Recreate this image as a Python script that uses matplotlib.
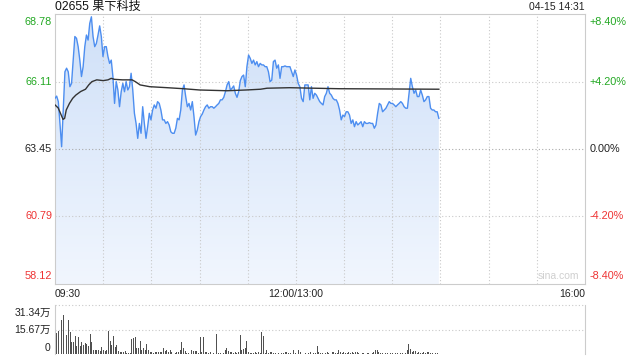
"""Intraday price and volume chart for 02655"""
import matplotlib
matplotlib.use('Agg')
import matplotlib.pyplot as plt
import matplotlib.transforms as mtransforms
from matplotlib.colors import LinearSegmentedColormap
import numpy as np

plt.rcParams['font.family'] = ['Liberation Sans', 'Noto Sans CJK SC', 'DejaVu Sans']

# chart values
stock_title = '02655 果下科技'
stamp = '04-15 14:31'
prev_close = 63.45
price_ticks = [68.78, 66.11, 63.45, 60.79, 58.12]
pct_labels = ['+8.40%', '+4.20%', '0.00%', '-4.20%', '-8.40%']
vol_ticks = [31.34, 15.67, 0]
vol_labels = ['31.34万', '15.67万', '0']
time_labels = ['09:30', '12:00/13:00', '16:00']
time_label_pos = [0, 150, 330]   # minutes after open, lunch removed
session_len = 330
last_minute = 239

price = [
    65.45, 65.54, 65.32, 64.46, 63.54, 64.99, 66.50, 66.64, 66.50, 65.91,
    66.04, 66.96, 67.89, 67.82, 67.49, 66.96, 66.31, 66.70, 67.49, 67.95,
    67.75, 68.41, 68.67, 67.89, 67.49, 67.62, 67.95, 68.31, 67.89, 67.10,
    67.49, 67.49, 67.10, 66.83, 66.96, 66.31, 65.25, 66.11, 65.78, 65.12,
    65.71, 66.04, 65.71, 66.11, 65.78, 65.91, 66.44, 65.78, 64.86, 64.46,
    63.87, 64.46, 64.07, 65.12, 64.46, 63.87, 64.33, 64.86, 64.60, 64.99,
    65.19, 65.06, 65.32, 65.25, 64.99, 64.60, 64.60, 64.46, 64.53, 64.40,
    64.13, 64.07, 64.07, 64.27, 64.66, 64.60, 64.99, 65.78, 65.98, 65.52,
    65.12, 65.25, 64.99, 65.32, 64.73, 64.00, 64.20, 64.53, 64.73, 64.83,
    64.99, 65.12, 65.19, 65.06, 65.12, 65.12, 65.06, 65.12, 65.19, 65.25,
    65.39, 65.39, 65.49, 65.71, 65.98, 66.11, 65.78, 65.85, 65.94, 65.65,
    65.49, 65.71, 66.15, 66.31, 66.37, 65.91, 66.70, 67.16, 67.03, 66.83,
    66.96, 66.77, 66.90, 66.70,
    66.83, 66.77, 66.77, 66.70, 66.70, 66.50, 66.11, 66.17, 66.90, 66.96,
    66.64, 66.77, 66.24, 66.70, 66.70, 66.73, 66.70, 66.70, 66.70, 66.50,
    66.31, 66.57, 66.37, 66.04, 65.91, 65.45, 65.32, 65.98, 65.98, 65.98,
    65.39, 65.91, 65.45, 65.65, 65.58, 65.45, 65.32, 65.25, 65.19, 65.52,
    65.65, 65.91, 65.65, 65.58, 65.45, 65.39, 65.39, 65.25, 64.99, 64.60,
    64.79, 64.73, 64.92, 64.92, 64.79, 64.46, 64.60, 64.33, 64.53, 64.40,
    64.46, 64.53, 64.33, 64.53, 64.46, 64.46, 64.49, 64.46, 64.46, 64.27,
    64.40, 64.86, 65.25, 65.19, 64.92, 64.99, 65.06, 65.19, 65.32, 65.25,
    65.25, 65.19, 65.12, 65.19, 65.25, 65.32, 65.25, 65.12, 65.06, 65.06,
    65.65, 66.24, 65.91, 65.65, 65.78, 65.52, 65.52, 65.78, 65.58, 65.32,
    65.39, 65.52, 65.52, 65.06, 64.99, 64.99, 64.92, 64.92, 64.66,
]

avg_minutes = [0, 2, 5, 6, 7, 9, 11, 13, 16, 19, 21, 23, 26, 30, 33, 35, 37,
               42, 48, 50, 53, 59, 70, 80, 90, 107, 119, 128, 132, 146, 177,
               209, 239]
avg_price = [65.19, 65.07, 64.62, 64.66, 64.99, 65.25, 65.45, 65.58, 65.72,
             65.81, 65.98, 66.11, 66.18, 66.15, 66.18, 66.24, 66.20, 66.18,
             66.18, 66.11, 65.98, 65.91, 65.87, 65.83, 65.78, 65.75, 65.78,
             65.81, 65.85, 65.87, 65.83, 65.82, 65.81]

# volume in 万 shares, one bar per minute
volume = [
    30.7, 13.3, 14.8, 12.3, 21.8, 25.0, 3.2, 11.9, 21.8, 14.0,
    7.6, 7.6, 11.2, 4.9, 10.8, 4.9, 7.6, 5.9, 7.0, 6.4,
    4.9, 12.9, 7.4, 2.8, 2.8, 2.8, 2.3, 1.7, 4.4, 2.3,
    2.1, 2.3, 14.8, 8.5, 5.9, 11.2, 4.4, 5.9, 1.7, 1.3,
    1.3, 1.1, 1.7, 0.6, 0.6, 0.6, 9.5, 10.2, 10.6, 3.8,
    3.8, 8.5, 2.8, 3.8, 2.8, 6.6, 2.8, 1.1, 1.5, 0.6,
    1.1, 1.1, 1.1, 1.1, 1.3, 3.8, 1.7, 2.8, 1.3, 2.3,
    1.3, 0.2, 0.6, 1.1, 1.1, 2.8, 7.8, 3.8, 2.1, 0.6,
    0.6, 0.2, 2.8, 1.7, 1.7, 1.7, 0.6, 10.6, 1.1, 10.6,
    1.1, 1.1, 0.6, 1.1, 0.2, 0.6, 0.2, 12.7, 0.6, 0.6,
    0.2, 0.6, 2.3, 3.8, 1.7, 1.3, 1.3, 0.6, 1.1, 0.6,
    1.5, 12.3, 2.8, 3.2, 3.8, 8.0,
    1.3, 0.6, 0.6, 0.6, 1.1, 0.6, 1.1, 0.6, 14.0, 11.6,
    0.6, 2.8, 0.6, 1.1, 1.3, 0.6, 0.6, 0.2, 0.6, 0.2,
    0.6, 0.6, 1.1, 1.3, 0.6, 0.6, 1.1, 2.3, 0.6, 0.6,
    2.8, 1.3, 0.6, 0.2, 0.6, 0.6, 0.6, 1.1, 0.6, 0.6,
    0.6, 4.9, 1.1, 0.6, 0.6, 0.2, 0.6, 1.1, 0.6, 0.2,
    1.1, 1.1, 0.6, 0.6, 2.3, 1.3, 0.6, 1.1, 0.6, 0.6,
    1.3, 0.6, 1.1, 0.6, 1.3, 1.3, 0.6, 0.2, 0.6, 0.6,
    0.2, 0.6, 0.6, 0.2, 0.6, 1.1, 2.3, 2.8, 1.1, 0.6,
    0.6, 0.2, 0.6, 0.6, 0.2, 0.6, 0.6, 0.2, 0.6, 0.6,
    0.2, 0.6, 0.6, 0.2, 0.6, 2.3, 6.6, 3.2, 1.1, 1.7,
    2.1, 0.6, 1.1, 0.6, 0.6, 1.3, 0.6, 1.3, 1.1, 0.6,
    0.6, 0.2, 0.6, 0.6, 0.2,
]

GREEN = '#22a822'
RED = '#ee3333'
GRID = '#c9c9c9'
label_colors = [GREEN, GREEN, '#222222', RED, RED]
FS = 7.8

price_minutes = np.linspace(0, last_minute, len(price))
vol_minutes = np.linspace(0, last_minute, len(volume))

fig = plt.figure(figsize=(6.4, 3.6), dpi=100)
ax = fig.add_axes([55 / 640, 1 - 284 / 360, 530 / 640, 270 / 360])
axv = fig.add_axes([55 / 640, 1 - 354 / 360, 530 / 640, 49 / 360])

ax.set_xlim(0, session_len)
ax.set_ylim(price_ticks[-1], price_ticks[0])

# gradient fill under the price line
fill = ax.fill_between(price_minutes, price, price_ticks[-1], color='none', lw=0)
grad_cmap = LinearSegmentedColormap.from_list('g', ['#f1f6fe', '#cfe0f8'])
grad = ax.imshow(np.linspace(0, 1, 256).reshape(-1, 1), cmap=grad_cmap, aspect='auto',
                 origin='lower', extent=[0, session_len, price_ticks[-1], price_ticks[0]],
                 zorder=1)
grad.set_clip_path(fill.get_paths()[0], transform=ax.transData)

ax.plot(price_minutes, price, color='#4d8ef0', lw=1, zorder=4)
ax.plot(avg_minutes, avg_price, color='#333333', lw=1, zorder=5)

ax.set_xticks([])
ax.set_yticks([])
for m in range(30, session_len, 30):
    ax.axvline(m, color=GRID, lw=0.8, ls=(0, (1, 2)), zorder=2)
for p in price_ticks[1:-1]:
    c = '#aaaaaa' if p == prev_close else GRID
    ax.axhline(p, color=c, lw=0.8, ls=(0, (1, 2)), zorder=2)
for s in ax.spines.values():
    s.set_color('#cccccc')

trans_left = mtransforms.blended_transform_factory(ax.transAxes, ax.transData)
for i, (p, pl, c) in enumerate(zip(price_ticks, pct_labels, label_colors)):
    va = 'top' if i == 0 else ('bottom' if i == len(price_ticks) - 1 else 'center')
    dy = -2 if i == 0 else (2 if i == len(price_ticks) - 1 else 0)
    tl = mtransforms.offset_copy(trans_left, fig=fig, x=-2, y=dy, units='points')
    ax.text(0, p, f'{p:.2f}', transform=tl, ha='right', va=va, color=c, fontsize=FS)
    tr = mtransforms.offset_copy(trans_left, fig=fig, x=3, y=dy, units='points')
    ax.text(1, p, pl, transform=tr, ha='left', va=va, color=c, fontsize=FS)

for lab, m, ha in zip(time_labels, time_label_pos, ['left', 'center', 'right']):
    ax.text(m, -0.02, lab, transform=ax.get_xaxis_transform(), ha=ha, va='top',
            fontsize=7.5, color='#222222')

ax.text(0.99, 0.012, 'sina.com', transform=ax.transAxes, ha='right', va='bottom',
        fontsize=7.5, color='#cfcfcf', zorder=6)

fig.text(55 / 640, 1 - 7 / 360, stock_title, ha='left', va='center', fontsize=8.7,
         color='#111111')
fig.text(585 / 640, 1 - 7 / 360, stamp, ha='right', va='center', fontsize=7.5,
         color='#222222')

# volume panel
axv.bar(vol_minutes, volume, width=0.6, color='#505050', lw=0)
axv.set_xlim(0, session_len)
axv.set_ylim(0, vol_ticks[0])
axv.set_xticks([])
axv.set_yticks([])
for v in vol_ticks[:2]:
    axv.axhline(v, color=GRID, lw=0.8, ls=(0, (1, 2)), zorder=0, clip_on=False)
axv.spines['top'].set_visible(False)
axv.spines['bottom'].set_visible(False)
axv.spines['left'].set_color('#cccccc')
axv.spines['right'].set_color('#cccccc')

trans_v = mtransforms.blended_transform_factory(axv.transAxes, axv.transData)
for i, (v, lab) in enumerate(zip(vol_ticks, vol_labels)):
    va = 'top' if i == 0 else ('bottom' if i == len(vol_ticks) - 1 else 'center')
    dy = -2 if i == 0 else (1 if i == len(vol_ticks) - 1 else 0)
    tv = mtransforms.offset_copy(trans_v, fig=fig, x=-3, y=dy, units='points')
    axv.text(0, v, lab, transform=tv, ha='right', va=va, fontsize=7.5, color='#222222')

fig.savefig('out.png', dpi=100)
